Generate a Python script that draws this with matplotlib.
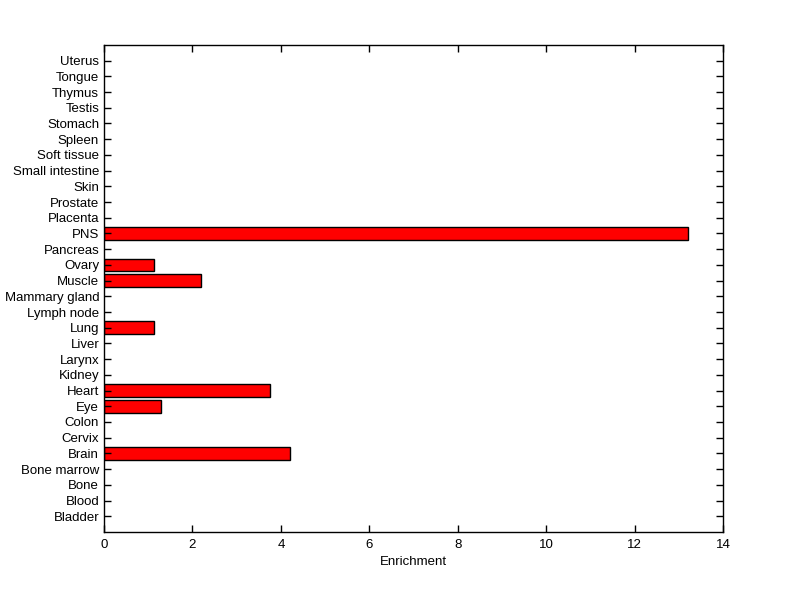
import numpy as np
import matplotlib
matplotlib.use("Agg")
import matplotlib.pyplot as plt

tissues = ["Bladder", "Blood", "Bone", "Bone marrow", "Brain", "Cervix", "Colon",
           "Eye", "Heart", "Kidney", "Larynx", "Liver", "Lung", "Lymph node",
           "Mammary gland", "Muscle", "Ovary", "Pancreas", "PNS", "Placenta",
           "Prostate", "Skin", "Small intestine", "Soft tissue", "Spleen",
           "Stomach", "Testis", "Thymus", "Tongue", "Uterus"]
enrichment = [0, 0, 0, 0, 4.21, 0, 0,
              1.29, 3.75, 0, 0, 0, 1.13, 0,
              0, 2.19, 1.13, 0, 13.21, 0,
              0, 0, 0, 0, 0,
              0, 0, 0, 0, 0]

plt.rcParams['font.family'] = ['Liberation Sans', 'DejaVu Sans']

fig = plt.figure(figsize=(8, 5.99), dpi=100)
ax = fig.add_axes([0.13, 0.1119, 0.774, 0.8131])

pos = np.arange(1, len(tissues) + 1)
vals = np.array(enrichment)
mask = vals > 0
ax.barh(pos[mask], vals[mask], height=0.8, color="red", edgecolor="black", linewidth=1)

ax.set_xlim(0, 14)
ax.set_ylim(0, 31)
ax.set_xticks(range(0, 15, 2))
ax.set_yticks(pos)
ax.set_yticklabels(tissues)
ax.tick_params(direction="in", top=True, right=True, labelsize=9.5, length=5, width=1)
ax.tick_params(axis="x", pad=5)
ax.set_xlabel("Enrichment", fontsize=9.5, labelpad=4)
for s in ax.spines.values():
    s.set_linewidth(1)

fig.savefig("out.png", dpi=100)
